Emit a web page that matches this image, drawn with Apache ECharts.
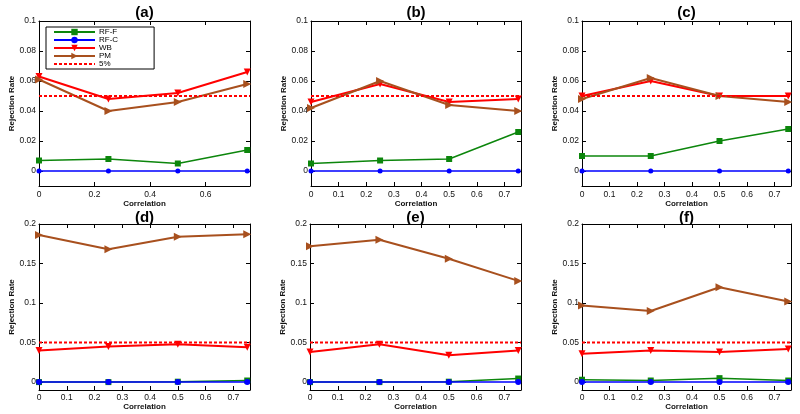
<!DOCTYPE html>
<html><head><meta charset="utf-8">
<script src="https://cdn.jsdelivr.net/npm/echarts@6/dist/echarts.min.js"></script>
<style>html,body{margin:0;padding:0;background:#fff}#c{width:800px;height:414px}</style>
</head><body><div id="c"></div><script>
// ---- data ----
const xVals = [0, 0.25, 0.5, 0.75];
const seriesNames = ['RF-F', 'RF-C', 'WB', 'PM', '5%'];
const panelTitles = ['(a)', '(b)', '(c)', '(d)', '(e)', '(f)'];
const threshold = 0.05;
const xMin = 0, xMax = 0.76;
const yRangeTop = [-0.01, 0.1];
const yRangeBottom = [-0.01, 0.2];
const yTicksTop = [0, 0.02, 0.04, 0.06, 0.08, 0.1];
const yTicksBottom = [0, 0.05, 0.1, 0.15, 0.2];
const xTicksA = [0, 0.2, 0.4, 0.6];
const xTicksOther = [0, 0.1, 0.2, 0.3, 0.4, 0.5, 0.6, 0.7];

const rfF_a = [0.007, 0.008, 0.005, 0.014];
const rfC_a = [0, 0, 0, 0];
const wb_a  = [0.063, 0.048, 0.052, 0.066];
const pm_a  = [0.061, 0.040, 0.046, 0.058];

const rfF_b = [0.005, 0.007, 0.008, 0.026];
const rfC_b = [0, 0, 0, 0];
const wb_b  = [0.046, 0.058, 0.046, 0.048];
const pm_b  = [0.042, 0.060, 0.044, 0.040];

const rfF_c = [0.010, 0.010, 0.020, 0.028];
const rfC_c = [0, 0, 0, 0];
const wb_c  = [0.050, 0.060, 0.050, 0.050];
const pm_c  = [0.048, 0.062, 0.050, 0.046];

const rfF_d = [0.000, 0.000, 0.0005, 0.002];
const rfC_d = [0, 0, 0, 0];
const wb_d  = [0.040, 0.045, 0.048, 0.044];
const pm_d  = [0.186, 0.168, 0.184, 0.187];

const rfF_e = [0.000, 0.000, 0.0005, 0.0045];
const rfC_e = [0, 0, 0, 0];
const wb_e  = [0.038, 0.048, 0.034, 0.040];
const pm_e  = [0.172, 0.180, 0.156, 0.128];

const rfF_f = [0.003, 0.002, 0.005, 0.002];
const rfC_f = [0, 0, 0, 0];
const wb_f  = [0.036, 0.040, 0.038, 0.042];
const pm_f  = [0.097, 0.090, 0.120, 0.102];

// ---- layout / style ----
const FONT = 'Liberation Sans, Arial, Helvetica, sans-serif';
const panelData = [
  [rfF_a, rfC_a, wb_a, pm_a], [rfF_b, rfC_b, wb_b, pm_b], [rfF_c, rfC_c, wb_c, pm_c],
  [rfF_d, rfC_d, wb_d, pm_d], [rfF_e, rfC_e, wb_e, pm_e], [rfF_f, rfC_f, wb_f, pm_f]
];
const layout = [
  {left: 39, top: 21, width: 211, height: 165, row: 0, yGap: 22},
  {left: 311, top: 21, width: 210, height: 165, row: 0, yGap: 20},
  {left: 582, top: 21, width: 209, height: 165, row: 0, yGap: 20},
  {left: 39, top: 224, width: 211, height: 166, row: 1, yGap: 20},
  {left: 310, top: 224, width: 211, height: 166, row: 1, yGap: 20},
  {left: 582, top: 224, width: 209, height: 166, row: 1, yGap: 20}
];
const colors = ['#0c860c', '#0000ff', '#ff0000', '#a8501e', '#ff0000'];
const styles = [
  {symbol: 'rect', symbolSize: 6, width: 1.5, rotate: 0},
  {symbol: 'circle', symbolSize: 5, width: 1.5, rotate: 0},
  {symbol: 'triangle', symbolSize: 7, width: 2, rotate: 180},
  {symbol: 'triangle', symbolSize: 8, width: 2, rotate: -90}
];
const fmt = v => String(+(+v).toFixed(4));

const grids = [], xAxes = [], yAxes = [], series = [], titles = [];
layout.forEach((L, i) => {
  grids.push({left: L.left, top: L.top, width: L.width, height: L.height, containLabel: false});
  const yr = L.row === 0 ? yRangeTop : yRangeBottom;
  const yt = L.row === 0 ? yTicksTop : yTicksBottom;
  const xt = i === 0 ? xTicksA : xTicksOther;
  const axisLine = {show: true, onZero: false, lineStyle: {color: '#000', width: 1}};
  const tick = (vals) => ({show: true, inside: true, length: 4, customValues: vals, lineStyle: {color: '#000', width: 1}});
  xAxes.push({
    type: 'value', gridIndex: i, min: xMin, max: xMax, position: 'bottom',
    axisLine, axisTick: tick(xt), splitLine: {show: false},
    axisLabel: {customValues: xt, formatter: fmt, fontSize: 8.5, color: '#111', fontFamily: FONT, margin: L.row === 0 ? 4 : 3},
    name: 'Correlation', nameLocation: 'middle', nameGap: L.row === 0 ? 13 : 11,
    nameTextStyle: {fontSize: 8, fontWeight: 'bold', color: '#111', fontFamily: FONT}
  });
  yAxes.push({
    type: 'value', gridIndex: i, min: yr[0], max: yr[1], position: 'left',
    axisLine, axisTick: tick(yt), splitLine: {show: false},
    axisLabel: {customValues: yt, formatter: fmt, fontSize: 8.5, color: '#111', fontFamily: FONT, margin: 3},
    name: 'Rejection Rate', nameLocation: 'middle', nameGap: L.yGap, nameRotate: 90,
    nameTextStyle: {fontSize: 8, fontWeight: 'bold', color: '#111', fontFamily: FONT}
  });
  titles.push({
    text: panelTitles[i], left: L.left + L.width / 2, top: L.row === 0 ? 5 : 210, textAlign: 'center', padding: 0,
    textStyle: {fontSize: 15, fontWeight: 'bold', color: '#000', fontFamily: FONT}
  });
});
// mirror axes (box with inward ticks on top/right)
layout.forEach((L, i) => {
  const yr = L.row === 0 ? yRangeTop : yRangeBottom;
  const yt = L.row === 0 ? yTicksTop : yTicksBottom;
  const xt = i === 0 ? xTicksA : xTicksOther;
  const axisLine = {show: true, onZero: false, lineStyle: {color: '#000', width: 1}};
  const tick = (vals) => ({show: true, inside: true, length: 4, customValues: vals, lineStyle: {color: '#000', width: 1}});
  xAxes.push({type: 'value', gridIndex: i, min: xMin, max: xMax, position: 'top', axisLine, axisTick: tick(xt), axisLabel: {show: false}, splitLine: {show: false}});
  yAxes.push({type: 'value', gridIndex: i, min: yr[0], max: yr[1], position: 'right', axisLine, axisTick: tick(yt), axisLabel: {show: false}, splitLine: {show: false}});
});
panelData.forEach((arrs, i) => {
  arrs.forEach((vals, k) => {
    const s = styles[k];
    series.push({
      type: 'line', name: seriesNames[k], xAxisIndex: i, yAxisIndex: i,
      data: xVals.map((x, j) => [x, vals[j]]),
      symbol: s.symbol, symbolSize: (i >= 3 && k === 1) ? 6 : s.symbolSize, symbolRotate: s.rotate,
      showSymbol: true, color: colors[k],
      itemStyle: {color: colors[k]},
      lineStyle: {color: colors[k], width: s.width},
      emphasis: {disabled: true}, z: 2 + k
    });
  });
  series.push({
    type: 'line', name: seriesNames[4], xAxisIndex: i, yAxisIndex: i,
    data: [[xMin, threshold], [xMax, threshold]],
    symbol: 'none', color: colors[4],
    lineStyle: {color: colors[4], width: 2, type: [3, 2]},
    emphasis: {disabled: true}, z: 7
  });
});

const legendData = seriesNames.map((n, k) => k === 4
  ? {name: n, itemStyle: {color: 'rgba(0,0,0,0)', borderWidth: 0, opacity: 0}}
  : {name: n});

const chart = echarts.init(document.getElementById('c'), null, {renderer: 'canvas'});
chart.setOption({
  animation: false,
  backgroundColor: '#fff',
  title: titles,
  grid: grids,
  xAxis: xAxes,
  yAxis: yAxes,
  legend: {
    data: legendData, orient: 'vertical', left: 46, top: 27,
    itemGap: 0, itemWidth: 41, itemHeight: 8,
    padding: [1, 36, 1, 7], borderColor: '#000', borderWidth: 1, backgroundColor: '#fff',
    selectedMode: false, z: 20,
    textStyle: {fontSize: 8, lineHeight: 8, color: '#000', fontFamily: FONT, padding: [0, 0, 0, -1]}
  },
  series
});
</script></body></html>
